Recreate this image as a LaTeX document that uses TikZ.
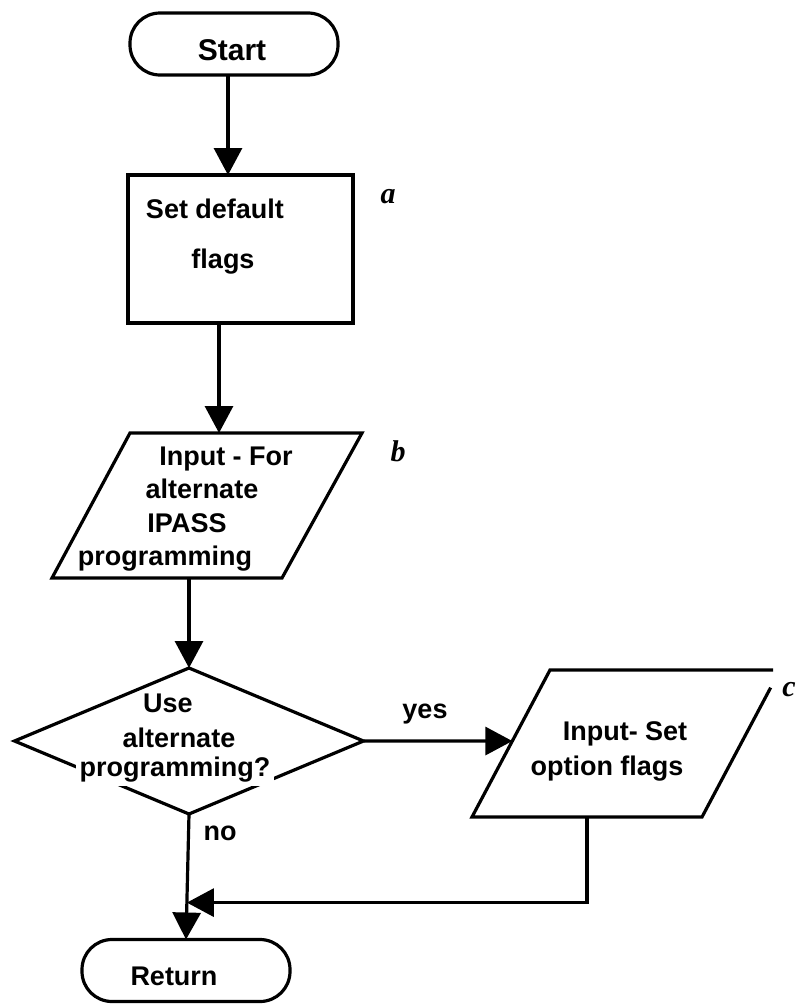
\documentclass[tikz,border=0pt]{standalone}
\usepackage{fontspec}
\setmainfont{Liberation Sans}
\newfontfamily\tagfont{Liberation Serif}
\usetikzlibrary{arrows.meta,shapes.geometric,calc}

\begin{document}
\begin{tikzpicture}[x=1pt,y=-1pt,
  line width=3.2pt,
  lbl/.style={font=\bfseries\fontsize{27}{33}\selectfont, inner sep=0pt, anchor=base},
  term/.style={draw, rounded corners=30pt, minimum width=208pt, minimum height=62pt, outer sep=0pt},
  procbox/.style={draw, minimum width=225pt, minimum height=148pt, outer sep=0pt},
  decision/.style={draw, diamond, minimum width=349pt, minimum height=146pt, inner sep=0pt, outer sep=0pt},
  flow/.style={-{Triangle[length=27pt,width=28pt]}},
  tag/.style={font=\tagfont\bfseries\itshape\fontsize{30}{30}\selectfont, inner sep=0pt}
]
\fill[white] (0,0) rectangle (799,1004);
\useasboundingbox (0,0) rectangle (799,1004);

% terminals and process box
\node[term] (start) at (234,44) {};
\node[lbl, font=\bfseries\fontsize{30}{33}\selectfont] (starttext) at (232,60) {Start};

\node[procbox] (setdef) at (240.5,249) {};
\node[lbl] (setdef1) at (215,218) {Set default};
\node[lbl] (setdef2) at (223,268) {flags};
\node[tag] (tagA) at (388,197) {a};

% first input (parallelogram)
\coordinate (bTL) at (130,433);
\coordinate (bTR) at (362,433);
\coordinate (bBR) at (282,578);
\coordinate (bBL) at (52,578);
\draw[line join=miter] (bTL) -- (bTR) -- (bBR) -- (bBL) -- cycle;
\node[lbl] (inpB1) at (226,465) {Input - For};
\node[lbl] (inpB2) at (202,498) {alternate};
\node[lbl] (inpB3) at (187,532) {IPASS};
\node[lbl] (inpB4) at (165,565) {programming};
\node[tag] (tagB) at (398,451) {b};

% decision
\node[decision] (dec) at (189,741) {};
\node[lbl] (dec1) at (168,712) {Use};
\node[lbl] (dec2) at (179,747) {alternate};
\node[lbl, fill=white, inner sep=4pt] (dec3) at (175,776) {programming?};

% second input (parallelogram), its top right corner left open
\coordinate (cTL) at (550,670);
\coordinate (cTR) at (780,670);
\coordinate (cBR) at (702,817);
\coordinate (cBL) at (472,817);
\draw ($(cTR)!0.03!(cTL)$) -- (cTL) -- (cBL) -- (cBR) -- ($(cBR)!0.88!(cTR)$);
\node[lbl] (inpC1) at (625,740) {Input- Set};
\node[lbl] (inpC2) at (607,775) {option flags};
\node[tag] (tagC) at (789,690) {c};

% return
\node[term] (ret) at (186,970.5) {};
\node[lbl] (rettext) at (174,985) {Return};

% connection points on the parallelograms
\coordinate (cIn) at (intersection of cTL--cBL and dec.west--dec.east);
\coordinate (cOut) at ($(cBL)!0.5!(cBR)$);
\coordinate (merge) at ($(dec.south)!0.706!(ret.north)$);

% connectors
\draw[flow] ([xshift=-6pt]start.south) -- ([xshift=-6pt]start.south |- setdef.north);
\draw[flow] ([xshift=-21.5pt]setdef.south) -- ([xshift=-21.5pt]setdef.south |- bTL);
\draw[flow] (dec.north |- bBL) -- (dec.north);
\draw[flow] (dec.east) -- (cIn);
\node[lbl] (yes) at (425,718) {yes};
\draw[flow] (dec.south) -- (ret.north);
\node[lbl] (no) at (220,840) {no};
\draw[flow] (cOut) |- (merge);
\end{tikzpicture}
\end{document}
